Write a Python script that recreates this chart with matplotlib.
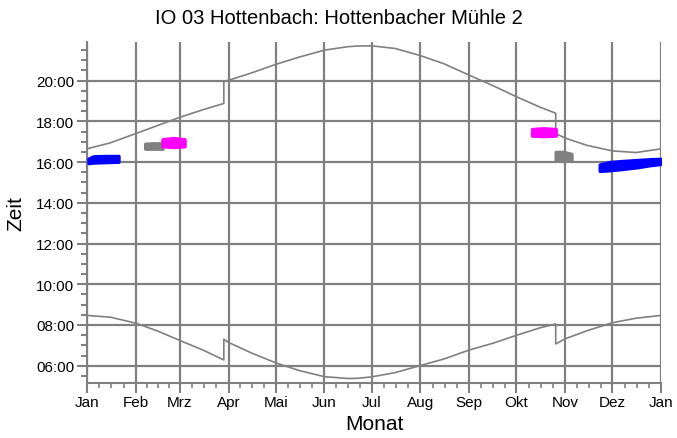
import numpy as np
import matplotlib as mpl
import matplotlib.pyplot as plt
from matplotlib.ticker import FixedLocator, MultipleLocator, FuncFormatter

mpl.rcParams['font.family'] = ['Liberation Sans', 'DejaVu Sans']
mpl.rcParams['axes.linewidth'] = 1.5

GRAY = '#808080'

# month labels and start day of each month (day of year)
month_labels = ['Jan', 'Feb', 'Mrz', 'Apr', 'Mai', 'Jun', 'Jul', 'Aug', 'Sep', 'Okt', 'Nov', 'Dez', 'Jan']
month_start = [0, 31, 59, 90, 120, 151, 181, 212, 243, 273, 304, 334, 365]

# sunrise / sunset (local clock time, hours)
sun_days = [0, 15, 31, 45, 59, 74, 87, 87, 90, 105, 120, 135, 151, 166, 172, 181,
            196, 212, 227, 243, 258, 273, 288, 298, 298, 304, 318, 334, 349, 365]
sunset = [16.65, 16.95, 17.40, 17.80, 18.20, 18.58, 18.88, 19.95, 20.02, 20.39, 20.80,
          21.16, 21.50, 21.67, 21.70, 21.71, 21.58, 21.23, 20.83, 20.27, 19.76, 19.21,
          18.70, 18.40, 17.40, 17.18, 16.82, 16.55, 16.47, 16.65]
sunrise = [8.47, 8.38, 8.09, 7.70, 7.24, 6.76, 6.28, 7.30, 7.14, 6.61, 6.14, 5.76,
           5.46, 5.37, 5.38, 5.45, 5.66, 6.01, 6.33, 6.77, 7.10, 7.49, 7.86, 8.05,
           7.07, 7.32, 7.72, 8.11, 8.33, 8.47]

# shadow periods: days, begin, end (hours)
blue1_days = [1, 4, 12, 20]
blue1_lo = [15.95, 15.98, 16.00, 16.02]
blue1_hi = [16.17, 16.28, 16.30, 16.30]

gray1_days = [37, 42, 48]
gray1_lo = [16.66, 16.66, 16.66]
gray1_hi = [16.90, 16.92, 16.92]

mag1_days = [48, 55, 62]
mag1_lo = [16.78, 16.74, 16.78]
mag1_hi = [17.12, 17.18, 17.12]

mag2_days = [283, 290, 298]
mag2_lo = [17.30, 17.28, 17.30]
mag2_hi = [17.62, 17.66, 17.62]

gray2_days = [298, 303, 308]
gray2_lo = [16.08, 16.06, 16.10]
gray2_hi = [16.50, 16.50, 16.40]

blue2_days = [326, 332, 340, 350, 358, 366]
blue2_lo = [15.57, 15.60, 15.66, 15.75, 15.85, 15.92]
blue2_hi = [15.88, 16.00, 16.05, 16.10, 16.14, 16.16]

fig = plt.figure(figsize=(6.77, 4.39), dpi=100)
ax = fig.add_axes([0.1285, 0.1253, 0.848, 0.7768])

ax.plot(sun_days, sunset, color=GRAY, lw=1.2)
ax.plot(sun_days, sunrise, color=GRAY, lw=1.2)

for d, lo, hi, c in [(blue1_days, blue1_lo, blue1_hi, '#0000ff'),
                     (gray1_days, gray1_lo, gray1_hi, GRAY),
                     (mag1_days, mag1_lo, mag1_hi, '#ff00ff'),
                     (mag2_days, mag2_lo, mag2_hi, '#ff00ff'),
                     (gray2_days, gray2_lo, gray2_hi, GRAY),
                     (blue2_days, blue2_lo, blue2_hi, '#0000ff')]:
    ax.fill_between(d, lo, hi, color=c, lw=2.5, edgecolor=c, joinstyle='round', zorder=3)

ax.set_xlim(0, 365)
ax.set_ylim(5.15, 21.9)

# ticks
ax.xaxis.set_major_locator(FixedLocator(month_start))
ax.set_xticklabels(month_labels)
minor_x = []
for i in range(12):
    step = (month_start[i + 1] - month_start[i]) / 4
    minor_x += [month_start[i] + k * step for k in (1, 2, 3)]
ax.xaxis.set_minor_locator(FixedLocator(minor_x))
ax.yaxis.set_major_locator(MultipleLocator(2))
ax.yaxis.set_minor_locator(MultipleLocator(0.5))
ax.yaxis.set_major_formatter(FuncFormatter(lambda v, p: '%02d:00' % int(round(v))))

ax.tick_params(axis='both', which='major', length=7, width=1.5, color=GRAY, labelsize=11, pad=2)
ax.tick_params(axis='y', which='minor', length=4, width=1.5, color=GRAY)
ax.tick_params(axis='x', which='minor', length=3.5, width=1.2, color=GRAY)

ax.grid(True, which='major', color=GRAY, lw=1.6)
ax.set_axisbelow(True)
for s in ['top', 'right']:
    ax.spines[s].set_visible(False)
for s in ['left', 'bottom']:
    ax.spines[s].set_color(GRAY)

ax.set_xlabel('Monat', fontsize=15, labelpad=3)
ax.set_ylabel('Zeit', fontsize=15, labelpad=8)
fig.text(0.5, 0.958, 'IO 03 Hottenbach: Hottenbacher Mühle 2', ha='center', va='center', fontsize=14.5)

plt.savefig('out.png', dpi=100)
